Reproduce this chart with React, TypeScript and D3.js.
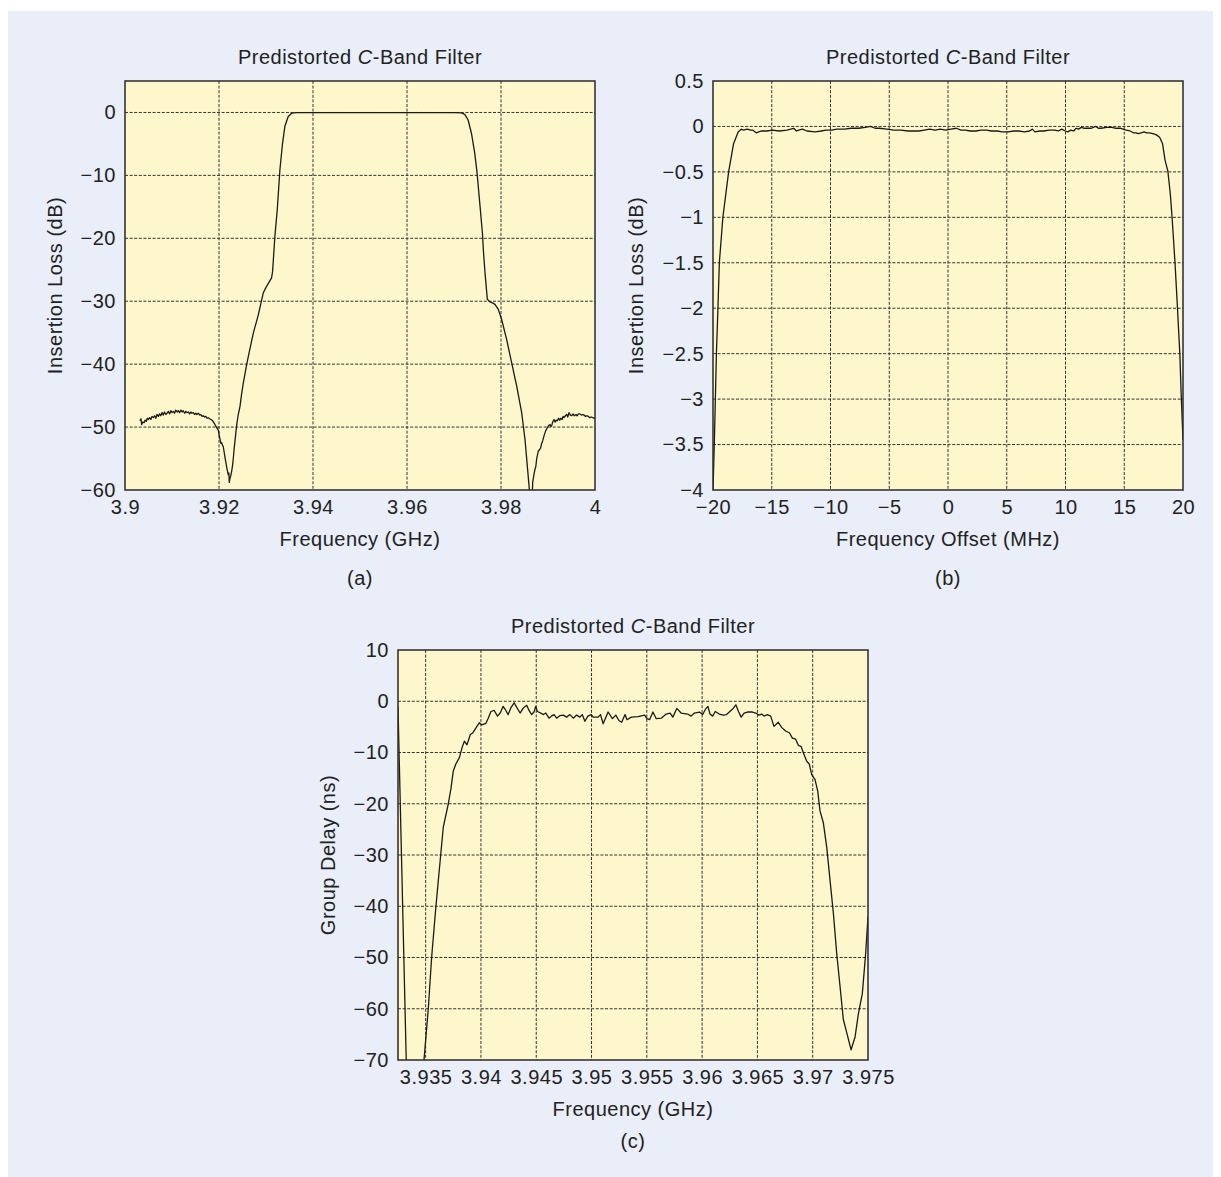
import React, { useRef, useEffect } from 'react';
import * as d3 from 'd3';

// (a) insertion loss vs frequency, GHz / dB
const freqA = [
  3.90319, 3.9034, 3.90355, 3.9038, 3.90405, 3.90426, 3.9045, 3.90475, 3.90496, 3.90525,
  3.9055, 3.90575, 3.90602, 3.9063, 3.90655, 3.9068, 3.90709, 3.90735, 3.9076, 3.9079,
  3.90815, 3.9084, 3.9087, 3.90895, 3.90921, 3.9095, 3.90975, 3.91, 3.91028, 3.91055,
  3.9108, 3.9111, 3.91134, 3.9116, 3.9119, 3.91215, 3.9124, 3.9127, 3.91295, 3.9132,
  3.91347, 3.91375, 3.914, 3.91425, 3.91453, 3.9148, 3.91505, 3.9153, 3.9156, 3.9159,
  3.91615, 3.9164, 3.91666, 3.91695, 3.9172, 3.91745, 3.91772, 3.918, 3.9183, 3.91866,
  3.919, 3.91936, 3.9196, 3.91985, 3.92005, 3.92021, 3.9204, 3.92057, 3.92075, 3.92091,
  3.9211, 3.92128, 3.92146, 3.92164, 3.9218, 3.92198, 3.9221, 3.92219, 3.92232, 3.92249,
  3.9227, 3.9229, 3.92304, 3.9232, 3.9234, 3.9236, 3.92377, 3.9241, 3.92447, 3.9248,
  3.92517, 3.92587, 3.9266, 3.92729, 3.92835, 3.92941, 3.93, 3.93047, 3.93118, 3.9314,
  3.9316, 3.93189, 3.93239, 3.93296, 3.93352, 3.93402, 3.93473, 3.93544, 3.9365, 3.94,
  3.95, 3.96, 3.97, 3.97158, 3.97229, 3.973, 3.97371, 3.97442, 3.97491, 3.97548,
  3.97605, 3.97624, 3.9766, 3.97709, 3.97766, 3.9783, 3.97872, 3.97943, 3.98014, 3.98121,
  3.98227, 3.98334, 3.9844, 3.98511, 3.9856, 3.98603, 3.9863, 3.9866, 3.98674, 3.987,
  3.98723, 3.9874, 3.9876, 3.98794, 3.9882, 3.98844, 3.98865, 3.98887, 3.98915, 3.9895,
  3.98986, 3.9901, 3.99043, 3.9906, 3.99078, 3.991, 3.99128, 3.9915, 3.99175, 3.99199,
  3.99225, 3.9925, 3.9927, 3.993, 3.9932, 3.9934, 3.9937, 3.99398, 3.9942, 3.99447,
  3.99475, 3.99504, 3.9953, 3.9956, 3.99596, 3.9962, 3.9965, 3.99681, 3.9971, 3.9974,
  3.99766, 3.998, 3.9983, 3.99858, 3.9989, 3.9992, 3.99951, 3.9998, 4.0,
];
const lossA = [
  -49.0, -48.7, -49.6, -49.2, -49.3, -48.9, -49.1, -48.6, -48.8, -48.5,
  -48.8, -48.3, -48.5, -48.2, -48.6, -48.0, -48.3, -47.9, -48.2, -47.7,
  -48.1, -47.6, -48.0, -47.8, -47.5, -47.9, -47.4, -47.7, -47.5, -47.8,
  -47.3, -47.6, -47.4, -47.7, -47.3, -47.6, -47.4, -47.8, -47.5, -47.7,
  -47.6, -47.9, -47.6, -47.8, -47.7, -48.0, -47.8, -48.0, -47.8, -48.1,
  -48.0, -48.3, -48.2, -48.4, -48.3, -48.6, -48.5, -48.7, -48.8, -49.0,
  -49.4, -49.9, -50.2, -50.5, -51.3, -51.9, -52.6, -52.5, -52.9, -53.1,
  -54.0, -54.8, -55.6, -56.4, -57.0, -57.6, -57.3, -58.8, -58.2, -57.8,
  -57.0, -56.0, -55.0, -53.6, -52.2, -50.8, -49.6, -48.0, -46.7, -44.8,
  -43.0, -40.1, -37.5, -35.1, -32.2, -28.7, -27.8, -27.2, -26.3, -25.3,
  -23.0, -19.7, -15.5, -9.1, -4.9, -2.2, -0.64, -0.12, -0.03, -0.02,
  -0.03, -0.02, -0.03, -0.06, -0.3, -1.2, -3.3, -6.5, -9.6, -14.4,
  -19.2, -21.8, -25.5, -29.7, -30.1, -30.3, -30.5, -31.3, -32.9, -36.1,
  -39.8, -43.5, -47.7, -52.0, -56.2, -59.9, -64.0, -63.0, -58.8, -57.6,
  -56.7, -56.3, -55.0, -53.8, -53.6, -53.3, -52.6, -52.2, -51.4, -50.6,
  -50.1, -49.8, -49.6, -49.9, -49.8, -49.2, -48.8, -49.2, -48.9, -49.0,
  -48.6, -48.9, -48.6, -48.8, -48.3, -48.5, -48.2, -48.0, -48.4, -47.7,
  -48.1, -48.2, -47.9, -48.2, -48.0, -48.2, -47.9, -47.9, -48.1, -48.0,
  -48.1, -48.3, -48.2, -48.3, -48.5, -48.4, -48.5, -48.6, -48.5,
];

// (b) insertion loss vs frequency offset, MHz / dB
const offsetB = [
  -20.0, -19.89, -19.8, -19.71, -19.58, -19.46, -19.16, -18.67, -18.25, -17.86,
  -17.6, -17.4, -17.09, -16.8, -16.63, -16.33, -16.1, -15.87, -15.4, -14.96,
  -14.35, -13.7, -13.4, -13.13, -12.9, -12.7, -12.4, -12.0, -11.3, -10.8,
  -10.39, -9.9, -9.48, -8.8, -8.26, -7.6, -7.05, -6.59, -6.2, -5.83,
  -5.2, -4.61, -4.0, -3.4, -2.9, -2.49, -2.0, -1.57, -1.1, -0.66,
  -0.2, 0.25, 0.71, 1.1, 1.47, 1.9, 2.38, 2.8, 3.29, 3.7,
  4.2, 4.6, 5.11, 5.6, 6.03, 6.5, 6.94, 7.18, 7.4, 7.8,
  8.16, 8.6, 9.07, 9.4, 9.68, 9.98, 10.2, 10.44, 10.7, 10.9,
  11.1, 11.35, 11.6, 11.81, 12.2, 12.57, 12.8, 13.03, 13.5, 13.94,
  14.3, 14.7, 15.16, 15.5, 15.77, 16.0, 16.22, 16.45, 16.68, 16.9,
  17.14, 17.44, 17.7, 18.01, 18.26, 18.47, 18.71, 18.92, 19.07, 19.32,
  19.53, 19.73, 19.86, 20.0,
];
const lossB = [
  -4.0, -3.5, -3.0, -2.5, -2.0, -1.5, -1.0, -0.5, -0.19, -0.06,
  -0.03, -0.04, -0.03, -0.04, -0.04, -0.07, -0.06, -0.05, -0.05, -0.04,
  -0.05, -0.04, -0.03, -0.02, -0.05, -0.04, -0.03, -0.05, -0.06, -0.05,
  -0.04, -0.04, -0.03, -0.03, -0.02, -0.02, -0.01, 0.0, -0.02, -0.02,
  -0.03, -0.04, -0.04, -0.05, -0.05, -0.05, -0.04, -0.03, -0.04, -0.03,
  -0.04, -0.03, -0.02, -0.04, -0.04, -0.05, -0.05, -0.04, -0.04, -0.05,
  -0.05, -0.06, -0.06, -0.05, -0.05, -0.06, -0.05, -0.03, -0.06, -0.05,
  -0.05, -0.04, -0.04, -0.05, -0.03, -0.05, -0.06, -0.04, -0.05, -0.02,
  -0.03, -0.01, -0.02, -0.02, -0.02, 0.0, -0.02, -0.02, -0.01, -0.01,
  -0.02, -0.02, -0.04, -0.05, -0.07, -0.07, -0.08, -0.07, -0.06, -0.07,
  -0.07, -0.08, -0.09, -0.12, -0.19, -0.37, -0.49, -0.74, -1.0, -1.5,
  -2.0, -2.5, -3.0, -3.45,
];

// (c) group delay vs frequency, GHz / ns
const freqC = [
  3.9325, 3.93359, 3.93485, 3.93524, 3.93554, 3.93593, 3.93636, 3.9366, 3.93705, 3.93729,
  3.9375, 3.93774, 3.93805, 3.9383, 3.9385, 3.93874, 3.93904, 3.93925, 3.93955, 3.93985,
  3.94006, 3.94045, 3.94066, 3.9409, 3.9412, 3.9415, 3.94174, 3.94201, 3.94225, 3.94246,
  3.9427, 3.943, 3.94324, 3.94354, 3.94384, 3.94414, 3.94435, 3.94459, 3.9448, 3.94495,
  3.94511, 3.94541, 3.94565, 3.94586, 3.94616, 3.94637, 3.94661, 3.94685, 3.94715, 3.94745,
  3.94775, 3.94805, 3.94835, 3.94865, 3.94895, 3.94916, 3.9494, 3.94967, 3.94997, 3.95015,
  3.9506, 3.95081, 3.95105, 3.9515, 3.95189, 3.95219, 3.95249, 3.95273, 3.95303, 3.95321,
  3.9536, 3.9542, 3.9548, 3.95501, 3.95525, 3.95555, 3.95585, 3.9563, 3.95675, 3.95711,
  3.95735, 3.95771, 3.9581, 3.9587, 3.959, 3.9593, 3.95975, 3.96005, 3.96029, 3.96053,
  3.96071, 3.96095, 3.96119, 3.96155, 3.96191, 3.96221, 3.96251, 3.96281, 3.96305, 3.96329,
  3.96353, 3.9638, 3.9641, 3.96455, 3.96485, 3.96515, 3.96539, 3.9656, 3.9659, 3.9662,
  3.9665, 3.96689, 3.96719, 3.96755, 3.96791, 3.96816, 3.96846, 3.9687, 3.96895, 3.96916,
  3.96946, 3.9697, 3.96991, 3.97021, 3.97045, 3.97066, 3.97096, 3.97127, 3.97157, 3.97187,
  3.97217, 3.97247, 3.97277, 3.97307, 3.97347, 3.97383, 3.97413, 3.97449, 3.97479, 3.975,
];
const delayC = [
  -1.0, -102.0, -70.0, -60.0, -50.0, -40.0, -30.0, -24.5, -20.0, -17.0,
  -13.6, -12.2, -11.0, -9.0, -7.8, -8.5, -6.5, -6.2, -5.2, -4.2,
  -4.6, -4.3, -3.3, -2.0, -1.8, -2.9, -2.3, -1.0, -1.8, -2.6,
  -1.3, -0.3, -1.2, -2.3, -1.3, -0.8, -1.8, -2.6, -2.1, -1.0,
  -2.0, -2.3, -2.6, -2.3, -3.3, -2.9, -2.6, -3.3, -2.8, -2.7,
  -3.1, -2.6, -3.3, -2.7, -3.1, -2.6, -3.9, -2.9, -2.6, -3.1,
  -3.1, -2.6, -4.4, -2.1, -3.4, -2.7, -3.8, -4.1, -2.6, -3.6,
  -3.1, -3.0, -2.7, -3.4, -3.6, -2.1, -3.4, -3.3, -2.5, -2.3,
  -3.1, -1.4, -2.3, -2.5, -2.9, -2.3, -2.1, -2.6, -1.6, -1.0,
  -2.5, -2.9, -2.0, -2.5, -2.7, -2.6, -2.0, -1.4, -0.7, -2.0,
  -3.1, -2.3, -2.1, -2.1, -2.3, -2.7, -2.5, -2.9, -2.6, -2.9,
  -4.9, -4.1, -5.1, -5.8, -6.2, -7.2, -7.4, -8.6, -8.8, -10.1,
  -11.7, -12.3, -14.3, -15.3, -17.5, -21.4, -23.7, -28.5, -35.0, -41.4,
  -49.2, -55.6, -62.1, -64.6, -68.0, -65.5, -61.0, -57.0, -49.2, -42.0,
];

// tick values
const ticksAX = [3.9, 3.92, 3.94, 3.96, 3.98, 4];
const ticksAY = [0, -10, -20, -30, -40, -50, -60];
const ticksBX = [-20, -15, -10, -5, 0, 5, 10, 15, 20];
const ticksBY = [0.5, 0, -0.5, -1, -1.5, -2, -2.5, -3, -3.5, -4];
const ticksCX = [3.935, 3.94, 3.945, 3.95, 3.955, 3.96, 3.965, 3.97, 3.975];
const ticksCY = [10, 0, -10, -20, -30, -40, -50, -60, -70];

const FONT = '"Liberation Sans", Arial, Helvetica, sans-serif';
const minus = (v) => String(v).replace('-', '\u2212');

const panels = [
  {
    id: 'a', left: 125, top: 81, w: 470, h: 409,
    xDomain: [3.9, 4], yDomain: [-60, 5], xTicks: ticksAX, yTicks: ticksAY,
    xs: freqA, ys: lossA, xLabel: 'Frequency (GHz)', yLabel: 'Insertion Loss (dB)',
    yLabelGap: 63, tagGap: 95,
  },
  {
    id: 'b', left: 713, top: 81, w: 470, h: 409,
    xDomain: [-20, 20], yDomain: [-4, 0.5], xTicks: ticksBX, yTicks: ticksBY,
    xs: offsetB, ys: lossB, xLabel: 'Frequency Offset (MHz)', yLabel: 'Insertion Loss (dB)',
    yLabelGap: 70, tagGap: 95,
  },
  {
    id: 'c', left: 398, top: 650, w: 470, h: 410,
    xDomain: [3.9325, 3.975], yDomain: [-70, 10], xTicks: ticksCX, yTicks: ticksCY,
    xs: freqC, ys: delayC, xLabel: 'Frequency (GHz)', yLabel: 'Group Delay (ns)',
    yLabelGap: 63, tagGap: 88,
  },
];

const App = () => {
  const svgRef = useRef(null);

  useEffect(() => {
    const svg = d3.select(svgRef.current);
    svg.selectAll('*').remove();

    svg.append('rect')
      .attr('x', 8).attr('y', 11)
      .attr('width', 1205).attr('height', 1166)
      .attr('fill', '#e9eef8');

    const defs = svg.append('defs');

    panels.forEach(p => {
      const x = d3.scaleLinear().domain(p.xDomain).range([0, p.w]);
      const y = d3.scaleLinear().domain(p.yDomain).range([p.h, 0]);
      const eps = 1e-9;

      const g = svg.append('g')
        .attr('transform', `translate(${p.left},${p.top})`)
        .attr('font-family', FONT)
        .attr('font-size', 20)
        .attr('letter-spacing', 0.5)
        .attr('fill', '#222');

      g.append('rect')
        .attr('width', p.w).attr('height', p.h)
        .attr('fill', '#fff7cc');

      // dashed grid
      g.append('g').selectAll('line')
        .data(p.xTicks.filter(t => t > p.xDomain[0] + eps && t < p.xDomain[1] - eps))
        .join('line')
        .attr('x1', d => x(d)).attr('x2', d => x(d))
        .attr('y1', 0).attr('y2', p.h)
        .attr('stroke', '#333').attr('stroke-width', 1)
        .attr('stroke-dasharray', '3,1.6');

      g.append('g').selectAll('line')
        .data(p.yTicks.filter(t => t > p.yDomain[0] + eps && t < p.yDomain[1] - eps))
        .join('line')
        .attr('x1', 0).attr('x2', p.w)
        .attr('y1', d => y(d)).attr('y2', d => y(d))
        .attr('stroke', '#333').attr('stroke-width', 1)
        .attr('stroke-dasharray', '3,1.6');

      // curve
      defs.append('clipPath').attr('id', `clip-${p.id}`)
        .append('rect').attr('width', p.w).attr('height', p.h);

      const line = d3.line()
        .x(d => x(d[0]))
        .y(d => y(d[1]));

      g.append('path')
        .datum(p.xs.map((v, i) => [v, p.ys[i]]))
        .attr('clip-path', `url(#clip-${p.id})`)
        .attr('fill', 'none')
        .attr('stroke', '#1a1a1a')
        .attr('stroke-width', 1.3)
        .attr('stroke-linejoin', 'round')
        .attr('d', line);

      // axes
      const xAxis = g.append('g')
        .attr('transform', `translate(0,${p.h})`)
        .call(d3.axisBottom(x).tickValues(p.xTicks).tickSize(0).tickPadding(10).tickFormat(minus));
      const yAxis = g.append('g')
        .call(d3.axisLeft(y).tickValues(p.yTicks).tickSize(0).tickPadding(9).tickFormat(minus));
      [xAxis, yAxis].forEach(a => {
        a.select('.domain').remove();
        a.attr('font-family', null).attr('font-size', null);
        a.selectAll('text').attr('fill', '#222');
      });

      g.append('rect')
        .attr('width', p.w).attr('height', p.h)
        .attr('fill', 'none')
        .attr('stroke', '#2a2a2a')
        .attr('stroke-width', 1.5);

      // title
      const title = g.append('text')
        .attr('x', p.w / 2).attr('y', -17)
        .attr('text-anchor', 'middle');
      title.append('tspan').text('Predistorted ');
      title.append('tspan').attr('font-style', 'italic').text('C');
      title.append('tspan').text('-Band Filter');

      g.append('text')
        .attr('x', p.w / 2).attr('y', p.h + 56)
        .attr('text-anchor', 'middle')
        .text(p.xLabel);

      g.append('text')
        .attr('transform', `translate(${-p.yLabelGap},${p.h / 2}) rotate(-90)`)
        .attr('text-anchor', 'middle')
        .text(p.yLabel);

      g.append('text')
        .attr('x', p.w / 2).attr('y', p.h + p.tagGap)
        .attr('text-anchor', 'middle')
        .text(`(${p.id})`);
    });
  }, []);

  return (
    <svg
      ref={svgRef}
      width={1221}
      height={1177}
      style={{ position: 'absolute', left: 0, top: 0, background: '#fff' }}
    />
  );
};

export default App;
